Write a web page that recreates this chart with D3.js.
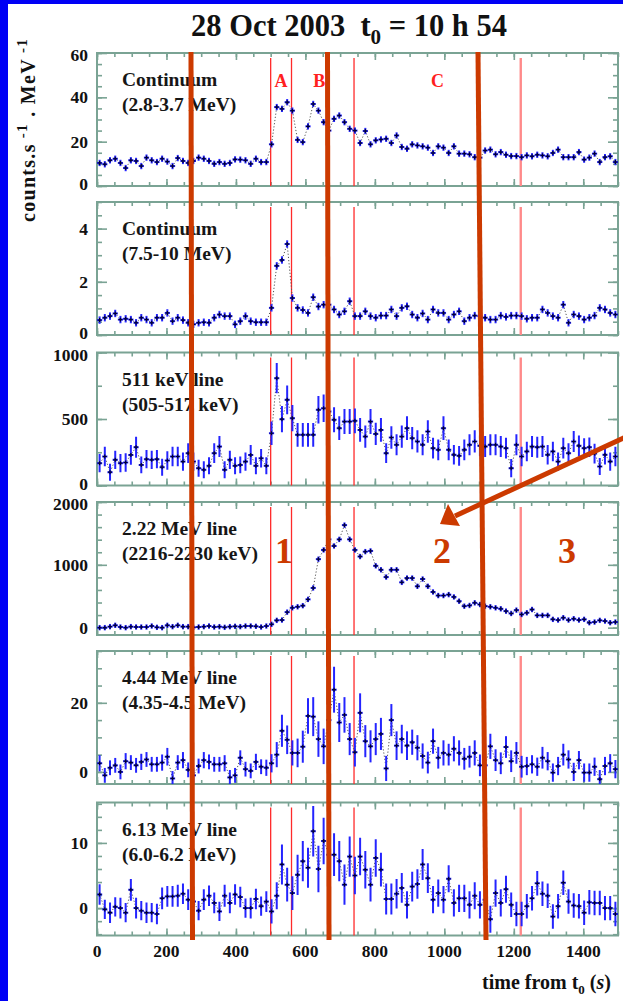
<!DOCTYPE html>
<meta charset="utf-8">
<style>
body { margin: 0; background: #fff; }
svg { display: block; font-family: "Liberation Serif", "Times New Roman", serif; font-weight: bold; }
.frame { fill: none; stroke: #7aa394; stroke-width: 2; }
.tick line { stroke: #7aa394; stroke-width: 1.6; }
.domain { display: none; }
.ylab, .xlab { font-size: 17.5px; fill: #111; }
.plab { font-size: 19.5px; fill: #161616; }
.redline { stroke: #ff2a2a; stroke-width: 1.3; }
.redline.late { stroke: #ff8a8a; stroke-width: 2.4; }
.ebar { stroke: #2424ff; stroke-width: 2; }
.mark { stroke: #000030; stroke-width: 1.2; }
.dots { fill: none; stroke: #555; stroke-width: 1; stroke-dasharray: 1.2,2; }
.ann { stroke: #cc3a00; stroke-width: 5; fill: none; }
</style>
<svg width="623" height="1001"></svg>
<script src="https://d3js.org/d3.v7.min.js"></script>
<script>

// bins of 15 s starting at t0
var binWidth = 15;

var cont1 = [10.4, 9.8, 11.6, 12.3, 10.4, 8.1, 11.6, 11.3, 9.0, 12.8,
  11.6, 10.8, 12.3, 11.0, 9.0, 12.6, 11.3, 10.4, 11.3, 12.8,
  12.3, 11.3, 10.0, 10.8, 10.0, 10.4, 12.0, 11.9, 11.6, 10.0,
  12.3, 10.8, 10.8, 18.8, 35.6, 34.8, 37.8, 34.0, 20.8, 19.8,
  26.9, 37.0, 34.0, 28.8, 25.0, 30.3, 31.8, 28.8, 25.8, 25.0,
  19.4, 24.8, 18.8, 20.6, 21.0, 21.3, 19.4, 22.8, 17.6, 16.8,
  18.8, 18.3, 17.9, 17.3, 14.9, 17.9, 17.3, 14.9, 17.9, 14.6,
  14.6, 14.3, 13.0, 12.8, 16.0, 16.4, 14.3, 15.3, 14.1, 13.5,
  13.5, 13.0, 13.8, 13.4, 14.1, 13.8, 13.4, 14.9, 16.4, 13.0,
  13.0, 13.0, 15.3, 11.9, 12.8, 14.6, 10.8, 13.0, 13.4, 10.8];

var cont2 = [0.56, 0.65, 0.71, 0.81, 0.58, 0.61, 0.58, 0.46, 0.65, 0.58,
  0.46, 0.65, 0.65, 0.83, 0.52, 0.65, 0.56, 0.46, 0.40, 0.46,
  0.48, 0.46, 0.65, 0.77, 0.71, 0.71, 0.40, 0.52, 0.71, 0.52,
  0.48, 0.48, 0.48, 1.02, 2.60, 2.82, 3.42, 1.39, 1.02, 0.94,
  0.83, 1.42, 1.07, 1.14, 1.14, 0.96, 0.77, 0.89, 1.27, 0.71,
  0.71, 0.89, 0.71, 0.65, 0.73, 0.73, 0.96, 0.71, 1.02, 1.08,
  0.77, 0.65, 0.81, 0.58, 0.96, 0.83, 0.83, 0.58, 0.77, 0.89,
  0.52, 0.65, 0.73, 0.71, 0.65, 0.58, 0.58, 0.73, 0.68, 0.73,
  0.73, 0.71, 0.61, 0.65, 0.65, 0.96, 0.83, 0.71, 0.65, 1.14,
  0.46, 0.77, 0.71, 0.58, 0.65, 0.73, 1.02, 0.96, 0.83, 0.77];

var line511 = [168, 218, 100, 193, 168, 173, 230, 288, 155, 198,
  193, 198, 138, 188, 218, 218, 180, 243, 180, 130,
  118, 148, 243, 293, 118, 193, 148, 155, 180, 230,
  148, 205, 148, 393, 807, 499, 644, 506, 381, 381,
  381, 381, 569, 581, 556, 494, 431, 481, 481, 486,
  418, 368, 481, 388, 418, 243, 361, 306, 368, 431,
  356, 331, 306, 406, 281, 268, 431, 268, 231, 223,
  268, 306, 331, 298, 293, 306, 306, 293, 281, 130,
  306, 218, 256, 293, 288, 293, 231, 256, 180, 281,
  243, 331, 298, 281, 288, 240, 143, 231, 180, 218];

var line222 = [0, 0, 16, 37, 10, 0, 16, 10, 10, 10,
  26, 5, 0, 37, 16, 37, 16, 16, 5, 10,
  16, 26, 10, 16, 5, 16, 21, 16, 26, 26,
  21, 10, 26, 53, 116, 121, 247, 316, 332, 350,
  450, 632, 1090, 1237, 1405, 1300, 1405, 1632, 1405, 1237,
  1132, 1210, 1221, 984, 921, 805, 921, 921, 721, 789,
  789, 658, 774, 658, 568, 511, 511, 526, 489, 421,
  342, 353, 395, 368, 342, 332, 316, 300, 263, 226,
  279, 210, 237, 289, 195, 195, 195, 132, 121, 158,
  121, 142, 121, 132, 79, 89, 116, 105, 79, 89];

var line444 = [2.5, -1.0, 1.2, 1.9, 0.0, 3.1, 2.7, 1.9, 2.9, 3.6,
  2.2, 2.2, 2.7, 4.4, -1.9, 2.7, 3.4, 0.6, -1.0, 1.7,
  3.4, 2.9, 2.2, 2.2, 2.5, -1.6, -1.0, 4.1, 0.8, 0.3,
  2.9, 1.5, 1.2, 2.5, 5.0, 11.9, 9.3, 5.5, 5.5, 7.3,
  16.2, 16.0, 9.5, 7.4, 15.0, 23.8, 14.3, 16.5, 9.5, 5.7,
  17.1, 8.9, 7.4, 9.5, 11.0, 1.0, 15.0, 7.6, 9.5, 7.6,
  8.6, 7.0, 4.6, 2.7, 8.9, 4.1, 5.5, 5.0, 6.7, 5.5,
  3.8, 4.4, 5.5, 1.9, 1.9, 7.4, 3.4, 2.5, 7.2, 3.1,
  5.5, 1.5, 1.7, 2.2, 1.5, 4.1, 3.1, -0.2, 1.7, 5.0,
  3.6, 0.0, 3.4, -0.2, -0.2, 1.5, -2.1, 1.7, 2.5, 0.8];

var line613 = [2.1, -0.2, -0.7, 0.2, 0.0, -0.7, 2.8, 0.0, -0.4, -0.7,
  -0.7, -0.9, 1.5, 1.8, 1.8, 1.9, 2.2, 1.3, 1.0, -0.4,
  1.3, 1.9, 0.8, -0.5, 1.9, 0.8, 2.1, 1.7, 0.0, 0.0,
  1.4, 0.3, 1.0, -0.5, 1.9, 6.7, 3.6, 2.3, 5.1, 7.2,
  6.2, 11.8, 6.0, 10.3, 8.2, 8.2, 7.2, 3.6, 7.9, 5.0,
  7.9, 5.9, 3.6, 7.7, 5.9, 1.4, 1.4, 2.2, 3.1, 0.5,
  3.3, 3.7, 6.7, 4.6, 1.3, 2.3, 1.3, 4.5, 0.8, 1.5,
  1.5, 0.5, 1.9, 0.5, 1.3, -1.7, 2.3, 0.8, 2.9, 0.5,
  -0.9, -0.9, 0.3, 1.5, 3.8, 2.2, 1.9, -1.3, 0.3, 3.9,
  1.0, 0.4, 0.3, -0.7, 0.9, 0.8, 0.8, 0.0, 0.0, -0.9];

// error bars (half heights)
var errCont1 = 1.2, errCont2 = 0.12, err222 = 35;

var err511 = [65, 70, 60, 65, 65, 65, 70, 75, 60, 65,
  65, 65, 60, 65, 70, 70, 65, 70, 65, 60,
  60, 60, 70, 75, 60, 65, 60, 60, 65, 70,
  60, 65, 60, 85, 110, 95, 105, 95, 85, 85,
  85, 85, 100, 100, 95, 90, 85, 90, 90, 90,
  85, 80, 90, 80, 85, 70, 80, 75, 80, 85,
  80, 80, 75, 80, 75, 75, 85, 75, 70, 70,
  75, 75, 80, 75, 75, 75, 75, 75, 75, 65,
  75, 70, 70, 75, 75, 75, 70, 70, 65, 75,
  70, 75, 75, 70, 70, 70, 60, 70, 65, 70];

var err444 = [2.2, 2.0, 2.0, 2.0, 2.0, 2.2, 2.0, 2.0, 2.2, 2.0,
  2.0, 2.0, 2.2, 2.4, 2.0, 2.0, 2.2, 2.0, 2.0, 2.0,
  2.2, 2.0, 2.0, 2.0, 2.2, 2.0, 2.0, 2.0, 2.0, 2.0,
  2.2, 2.0, 2.2, 2.5, 3.5, 4.5, 4.0, 3.5, 4.0, 4.5,
  5.0, 5.5, 5.0, 5.0, 5.5, 6.5, 5.5, 5.0, 4.5, 4.0,
  5.5, 4.5, 4.5, 4.5, 4.5, 3.5, 4.5, 4.0, 4.0, 4.0,
  3.5, 3.5, 3.5, 3.0, 3.5, 3.0, 3.5, 3.0, 3.5, 3.5,
  3.0, 3.0, 3.5, 3.0, 3.0, 3.5, 3.0, 3.0, 3.0, 3.0,
  3.0, 3.0, 2.5, 2.5, 2.5, 3.0, 2.5, 2.5, 2.5, 3.0,
  2.5, 2.5, 2.5, 2.5, 2.5, 2.5, 2.5, 2.5, 2.5, 2.5];

var err613 = [1.5, 1.4, 1.5, 1.4, 1.5, 1.4, 1.6, 1.5, 1.4, 1.5,
  1.4, 1.5, 1.6, 1.5, 1.5, 1.6, 1.5, 1.5, 1.5, 1.4,
  1.5, 1.5, 1.5, 1.4, 1.6, 1.5, 1.5, 1.5, 1.4, 1.5,
  1.5, 1.4, 1.5, 1.8, 2.0, 3.0, 2.5, 2.5, 3.0, 3.0,
  3.0, 3.8, 3.5, 3.5, 3.2, 3.2, 3.0, 3.0, 3.0, 2.8,
  2.8, 2.8, 2.5, 2.8, 2.5, 2.3, 2.3, 2.2, 2.2, 2.0,
  2.2, 2.2, 2.3, 2.2, 2.0, 2.0, 2.0, 2.0, 2.0, 2.0,
  2.0, 2.0, 2.0, 2.0, 2.0, 2.0, 2.0, 2.0, 2.0, 1.8,
  1.8, 1.8, 1.8, 1.8, 1.8, 1.8, 1.8, 1.8, 1.8, 1.8,
  1.8, 1.8, 1.8, 1.8, 1.8, 1.8, 1.8, 1.8, 1.8, 1.8];

var panelNames = [["Continuum", "(2.8-3.7 MeV)"], ["Continuum", "(7.5-10 MeV)"],
  ["511 keV line", "(505-517 keV)"], ["2.22 MeV line", "(2216-2230 keV)"],
  ["4.44 MeV line", "(4.35-4.5 MeV)"], ["6.13 MeV line", "(6.0-6.2 MeV)"]];
var yDomains = [[0, 60], [0, 5], [0, 1000], [-117, 2000], [-3.5, 35], [-4.2, 16.2]];
var yLabels = [[0, 20, 40, 60], [0, 2, 4], [0, 500, 1000], [0, 1000, 2000], [0, 20], [0, 10]];
var yMinorStep = [5, 0.5, 250, 200, 5, 2];
var phaseTimes = [500, 560, 740, 1220];
var phaseNames = [["A", 530], ["B", 640], ["C", 980]];
var xLabels = [0, 200, 400, 600, 800, 1000, 1200, 1400];

var series = [cont1, cont2, line511, line222, line444, line613];
var errors = [errCont1, errCont2, err511, err222, err444, err613];

var svg = d3.select("svg");
var W = 623, H = 1001;

// blue slide border
svg.append("rect").attr("width", W).attr("height", H).attr("fill", "#0000f5");
svg.append("rect").attr("x", 8).attr("y", 4).attr("width", W - 8).attr("height", H - 4).attr("fill", "#fff");

var x = d3.scaleLinear().domain([0, 1500]).range([97, 618]);
var panelTop = [53, 202, 352.5, 502, 651, 802.5], panelH = 133;

var xMinor = d3.range(0, 1501, 50), xMajor = d3.range(0, 1501, 200);

series.forEach(function(vals, p) {
  var top = panelTop[p], bot = top + panelH;
  var y = d3.scaleLinear().domain(yDomains[p]).range([bot, top]);
  var g = svg.append("g");
  var data = vals.map(function(v, i) {
    var e = Array.isArray(errors[p]) ? errors[p][i] : errors[p];
    return {t: binWidth * i + binWidth / 2, v: v, e: e};
  });

  g.append("clipPath").attr("id", "clip" + p)
    .append("rect").attr("x", x(0)).attr("y", top).attr("width", x(1500) - x(0)).attr("height", panelH);

  // ticks on all four sides, pointing inward
  g.append("g").attr("transform", "translate(0," + bot + ")")
    .call(d3.axisBottom(x).tickValues(xMinor).tickSize(-4).tickFormat(""));
  g.append("g").attr("transform", "translate(0," + bot + ")")
    .call(d3.axisBottom(x).tickValues(xMajor).tickSize(-7).tickFormat(""));
  g.append("g").attr("transform", "translate(0," + top + ")")
    .call(d3.axisTop(x).tickValues(xMinor).tickSize(-4).tickFormat(""));
  g.append("g").attr("transform", "translate(0," + top + ")")
    .call(d3.axisTop(x).tickValues(xMajor).tickSize(-7).tickFormat(""));

  var d0 = yDomains[p][0], d1 = yDomains[p][1], st = yMinorStep[p];
  var yMinor = d3.range(Math.ceil(d0 / st) * st, d1 + 1e-9, st);
  [[d3.axisLeft, x(0)], [d3.axisRight, x(1500)]].forEach(function(a) {
    g.append("g").attr("transform", "translate(" + a[1] + ",0)")
      .call(a[0](y).tickValues(yMinor).tickSize(-5).tickFormat(""));
    g.append("g").attr("transform", "translate(" + a[1] + ",0)")
      .call(a[0](y).tickValues(yLabels[p]).tickSize(-10).tickFormat(""));
  });

  g.append("rect").attr("class", "frame")
    .attr("x", x(0)).attr("y", top).attr("width", x(1500) - x(0)).attr("height", panelH);

  // labels sitting on a panel edge are nudged inward so neighbours do not collide
  g.selectAll(".ylab").data(yLabels[p]).enter().append("text")
    .attr("class", "ylab")
    .attr("x", 88).attr("y", function(d) {
      var py = y(d);
      if (py > bot - 1) return py - 2;
      if (py < top + 1) return py + 2;
      return py;
    })
    .attr("dy", "0.35em").attr("text-anchor", "end")
    .text(function(d) { return d; });

  // phase boundaries
  g.selectAll(".redline").data(phaseTimes).enter().append("line")
    .attr("class", function(d, i) { return i === 3 ? "redline late" : "redline"; })
    .attr("x1", function(d) { return x(d); }).attr("x2", function(d) { return x(d); })
    .attr("y1", top + 5).attr("y2", bot);

  var pg = g.append("g").attr("clip-path", "url(#clip" + p + ")");

  pg.append("path").datum(data).attr("class", "dots")
    .attr("d", d3.line().x(function(d) { return x(d.t); }).y(function(d) { return y(d.v); }));

  var pts = pg.selectAll(".pt").data(data).enter().append("g");
  pts.append("line").attr("class", "ebar")
    .attr("x1", function(d) { return x(d.t); }).attr("x2", function(d) { return x(d.t); })
    .attr("y1", function(d) { return y(d.v - d.e) + 0.5; }).attr("y2", function(d) { return y(d.v + d.e) - 0.5; });
  pts.append("line").attr("class", "ebar")
    .attr("x1", function(d) { return x(d.t - binWidth / 2); }).attr("x2", function(d) { return x(d.t + binWidth / 2); })
    .attr("y1", function(d) { return y(d.v); }).attr("y2", function(d) { return y(d.v); });
  pts.append("line").attr("class", "mark")
    .attr("x1", function(d) { return x(d.t) - 2; }).attr("x2", function(d) { return x(d.t) + 2; })
    .attr("y1", function(d) { return y(d.v); }).attr("y2", function(d) { return y(d.v); });
  pts.append("line").attr("class", "mark")
    .attr("x1", function(d) { return x(d.t); }).attr("x2", function(d) { return x(d.t); })
    .attr("y1", function(d) { return y(d.v) - 2; }).attr("y2", function(d) { return y(d.v) + 2; });

  var lab = g.append("text").attr("class", "plab").attr("x", 122);
  lab.append("tspan").attr("x", 122).attr("y", top + 33).text(panelNames[p][0]);
  lab.append("tspan").attr("x", 122).attr("y", top + 58).text(panelNames[p][1]);

  if (p === 0) {
    g.selectAll(".phase").data(phaseNames).enter().append("text")
      .attr("x", function(d) { return x(d[1]); }).attr("y", top + 34)
      .attr("text-anchor", "middle").attr("fill", "#ff2020").attr("font-size", 18)
      .text(function(d) { return d[0]; });
  }
});

// x tick labels and title
svg.selectAll(".xlab").data(xLabels).enter().append("text")
  .attr("class", "xlab")
  .attr("x", function(d) { return x(d); }).attr("y", 957)
  .attr("text-anchor", "middle")
  .text(function(d) { return d; });

var xt = svg.append("text").attr("x", 611).attr("y", 989).attr("text-anchor", "end").attr("font-size", 20).attr("fill", "#111");
xt.append("tspan").text("time from t");
xt.append("tspan").attr("font-size", 13).attr("dy", 5).text("0");
xt.append("tspan").attr("dy", -5).text("\u00a0(");
xt.append("tspan").attr("font-style", "italic").text("s");
xt.append("tspan").text(")");

// y axis title
var yt = svg.append("text").attr("transform", "translate(35,222) rotate(-90)")
  .attr("font-size", 20).attr("letter-spacing", 1.3).attr("fill", "#111");
yt.append("tspan").text("counts.s");
yt.append("tspan").attr("font-size", 15).attr("dy", -8).text("\u00a0-1");
yt.append("tspan").attr("dy", 8).text("\u00a0.\u00a0MeV");
yt.append("tspan").attr("font-size", 15).attr("dy", -8).text("\u00a0-1");

// main title
var tt = svg.append("text").attr("x", 349).attr("y", 36).attr("text-anchor", "middle")
  .attr("font-size", 30.5).attr("fill", "#111");
tt.append("tspan").text("28 Oct 2003\u00a0\u00a0t");
tt.append("tspan").attr("font-size", 21).attr("dy", 8).text("0");
tt.append("tspan").attr("dy", -8).text("\u00a0=\u00a010\u00a0h\u00a054");

// hand-drawn annotations
var ann = svg.append("g");
[[191, 52, 192.5, 940], [327.5, 52, 329, 940], [478, 52, 486, 940]].forEach(function(l) {
  ann.append("line").attr("class", "ann")
    .attr("x1", l[0]).attr("y1", l[1]).attr("x2", l[2]).attr("y2", l[3]);
});
ann.append("line").attr("class", "ann").attr("x1", 632).attr("y1", 434).attr("x2", 455).attr("y2", 516);
ann.append("path").attr("fill", "#cc3a00")
  .attr("d", "M440,524 L448,504 L460,526 Z");
[["1", 284], ["2", 442], ["3", 567]].forEach(function(n) {
  ann.append("text").attr("x", n[1]).attr("y", 563).attr("text-anchor", "middle")
    .attr("font-size", 36).attr("fill", "#cc3a00").text(n[0]);
});

</script>
